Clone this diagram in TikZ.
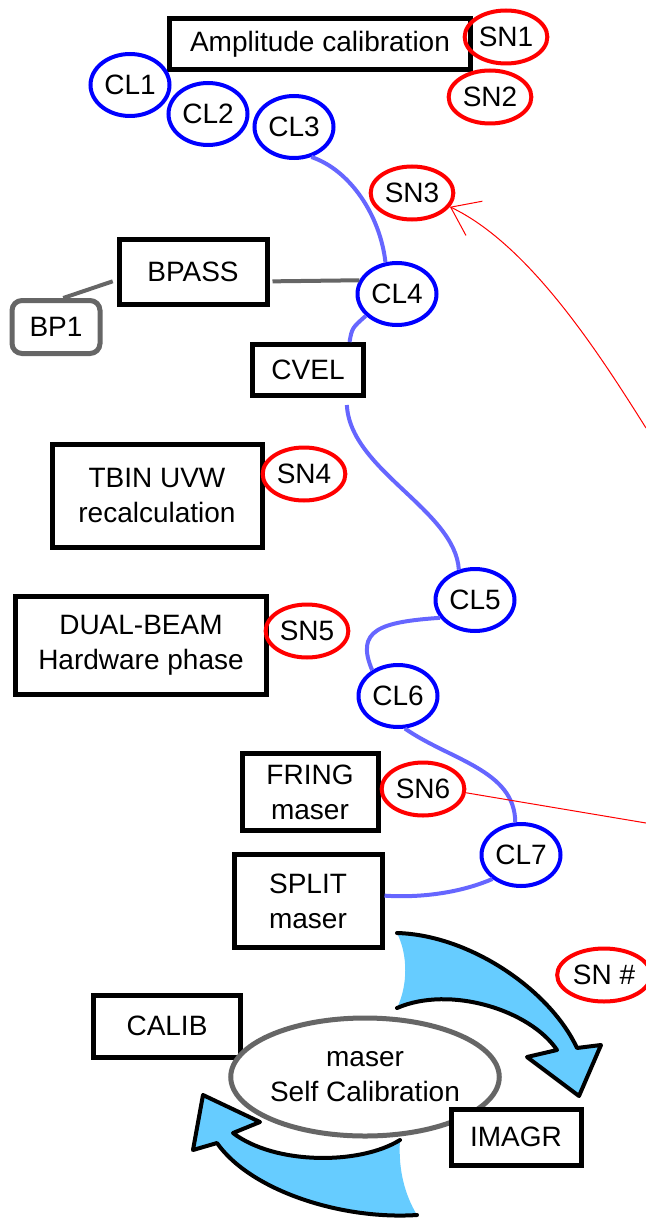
\documentclass[tikz,border=0pt]{standalone}
\usepackage{fontspec}
\setmainfont{Liberation Sans}
\usetikzlibrary{shapes.geometric,arrows.meta}
\definecolor{clblue}{HTML}{0000FF}
\definecolor{linkblue}{HTML}{6666FF}
\definecolor{fatblue}{HTML}{66CCFF}
\definecolor{gry}{HTML}{666666}
\begin{document}
\begin{tikzpicture}[x=0.5pt,y=-0.5pt,
  every node/.style={font=\fontsize{14}{17.5}\selectfont, align=center},
  task/.style={draw, line width=2.5pt, fill=white, inner sep=1pt},
  cl/.style={ellipse, draw=clblue, line width=2pt, inner sep=1pt, minimum width=39.5pt, minimum height=31pt},
  sn/.style={ellipse, draw=red, line width=2pt, inner sep=1pt, minimum width=40.5pt, minimum height=26.5pt},
  link/.style={draw=linkblue, line width=2pt},
  glink/.style={draw=gry, line width=2pt},
  snline/.style={draw=red, line width=0.5pt},
  fatedge/.style={line width=2pt, line join=round, line cap=round}]
\useasboundingbox (0,0) rectangle (646,1225);
\node[task, minimum width=150.5pt, minimum height=25.5pt] (amp) at (320,44) {Amplitude calibration};
\node[sn] (SN1) at (506,37) {SN1};
\node[sn] (SN2) at (490,97) {SN2};
\node[cl] (CL1) at (130,85) {CL1};
\node[cl] (CL2) at (208,114) {CL2};
\node[cl] (CL3) at (294,127) {CL3};
\node[sn] (SN3) at (412,193) {SN3};
\node[task, minimum width=74pt, minimum height=32.5pt] (BPASS) at (193,272) {BPASS};
\node[draw=gry, line width=2.5pt, rounded corners=5pt, minimum width=44pt, minimum height=26.5pt] (BP1) at (56,327) {BP1};
\node[cl] (CL4) at (397,294) {CL4};
\node[task, minimum width=55.5pt, minimum height=25.5pt] (CVEL) at (308,370) {CVEL};
\node[task, minimum width=105pt, minimum height=51.5pt] (TBIN) at (157,496) {TBIN UVW\\recalculation};
\node[sn] (SN4) at (304,474) {SN4};
\node[cl] (CL5) at (475,600) {CL5};
\node[task, minimum width=125.5pt, minimum height=49pt] (DUAL) at (141,645) {DUAL-BEAM\\Hardware phase};
\node[sn] (SN5) at (307,631) {SN5};
\node[cl] (CL6) at (398,696) {CL6};
\node[task, minimum width=68pt, minimum height=38.5pt] (FRING) at (310,792) {FRING\\maser};
\node[sn] (SN6) at (423,789) {SN6};
\node[cl] (CL7) at (521,855) {CL7};
\node[task, minimum width=74pt, minimum height=46.5pt] (SPLIT) at (308,901) {SPLIT\\maser};
\node[sn] (SNx) at (604,975) {SN \#};
\node[task, minimum width=73.5pt, minimum height=31pt] (CALIB) at (167,1026) {CALIB};
\coordinate (sn3src) at (646,428);
\coordinate (sn6end) at (646,823);
\draw[link] (CL3.-60) .. controls (350,170) and (380,215) .. (CL4.110);
\draw[link] (CL4.215) .. controls (352,328) .. (CVEL.34);
\draw[link, shorten <=3.5pt] (CVEL.-36) .. controls (350,470) and (455,510) .. (CL5.118);
\draw[link] (CL5.207) .. controls (380,622) and (355,630) .. (CL6.135);
\draw[link] (CL6.-78) .. controls (450,760) and (515,770) .. (CL7.100);
\draw[link] (CL7.220) .. controls (460,893) and (420,898) .. (SPLIT.4);
\draw[glink, shorten <=1.5pt] (BPASS.-7) -- (CL4.160);
\draw[glink, shorten <=2pt] (BPASS.186) -- (BP1.76);
\draw[snline, -{Straight Barb[length=13pt,width=19pt]}] (sn3src) .. controls (600,355) and (530,245) .. (SN3.-20);
\draw[snline] (SN6.-5) -- (sn6end);
\fill[fatblue] (397,933) .. controls (470,935) and (550,990) .. (577,1048) -- (601,1045) -- (579,1096) -- (527,1057) -- (557,1050) .. controls (530,1010) and (450,985) .. (397,1008) .. controls (408,985) and (408,955) .. (397,933) -- cycle;
\draw[fatedge] (397,933) .. controls (470,935) and (550,990) .. (577,1048) -- (601,1045) -- (579,1096) -- (527,1057) -- (557,1050) .. controls (530,1010) and (450,985) .. (397,1008);
\fill[fatblue] (417,1215) .. controls (340,1220) and (250,1190) .. (217,1143) -- (193,1150) -- (203,1095) -- (260,1122) -- (233,1133) .. controls (275,1165) and (360,1165) .. (400,1140) .. controls (398,1170) and (405,1195) .. (417,1215) -- cycle;
\draw[fatedge] (417,1215) .. controls (340,1220) and (250,1190) .. (217,1143) -- (193,1150) -- (203,1095) -- (260,1122) -- (233,1133) .. controls (275,1165) and (360,1165) .. (400,1140);
\node[ellipse, draw=gry, line width=2.5pt, fill=white, inner sep=0pt, minimum width=127.5pt, minimum height=59pt] (selfcal) at (365,1077) {maser\\Self Calibration};
\node[task, minimum width=65pt, minimum height=28pt] (IMAGR) at (516,1137) {IMAGR};
\end{tikzpicture}
\end{document}
